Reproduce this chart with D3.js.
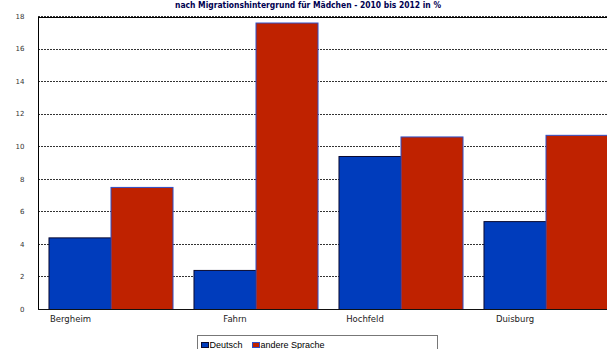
<!DOCTYPE html>
<html>
<head>
<meta charset="utf-8">
<script src="https://cdn.jsdelivr.net/npm/d3@7"></script>
<style>
html,body{margin:0;padding:0;background:#fff;}
svg{display:block;}
</style>
</head>
<body>
<svg id="chart" width="607" height="349"></svg>
<script>
// ---- data ----
const categories = ["Bergheim", "Fahrn", "Hochfeld", "Duisburg"];
const seriesNames = ["Deutsch", "andere Sprache"];
const deutsch = [4.4, 2.4, 9.4, 5.4];
const andereSprache = [7.5, 17.6, 10.6, 10.7];
const yTicks = [0, 2, 4, 6, 8, 10, 12, 14, 16, 18];
const titleText = "nach Migrationshintergrund für Mädchen - 2010 bis 2012 in %";

// ---- layout / style ----
const colors = {"Deutsch": "#003cbc", "andere Sprache": "#bf2200"};
const strokes = {"Deutsch": "#0a0a30", "andere Sprache": "#2f4fc8"};
const labelShift = [-40, -20.5, -35.5, -30.5];

const svg = d3.select("#chart");
const plotLeft = 38, plotRight = 618, plotTop = 16, plotBottom = 309;

const x = d3.scaleBand().domain(categories).range([plotLeft, plotRight]).padding(0);
const xs = d3.scaleBand().domain(seriesNames).range([0, x.bandwidth()])
  .paddingInner(0).paddingOuter(0.169);
const y = d3.scaleLinear().domain([0, 18]).range([plotBottom, plotTop]);

// title
svg.append("text")
  .attr("x", 308).attr("y", 8)
  .attr("text-anchor", "middle")
  .attr("font-family", "DejaVu Sans, Verdana, sans-serif")
  .attr("font-weight", "bold")
  .attr("font-size", 8.5)
  .attr("fill", "#000050")
  .attr("textLength", 266)
  .attr("lengthAdjust", "spacingAndGlyphs")
  .text(titleText);

// gridlines
const grid = svg.append("g");
grid.selectAll("line").data(yTicks.filter(d => d > 0)).join("line")
  .attr("x1", plotLeft).attr("x2", 607)
  .attr("y1", d => Math.round(y(d)) + 0.5).attr("y2", d => Math.round(y(d)) + 0.5)
  .attr("stroke", "#333")
  .attr("stroke-width", 1)
  .attr("stroke-dasharray", "2,1");

// frame top line
svg.append("line")
  .attr("x1", plotLeft).attr("x2", 607)
  .attr("y1", Math.round(y(18)) + 1.5).attr("y2", Math.round(y(18)) + 1.5)
  .attr("stroke", "#000").attr("stroke-width", 1);

// y-axis using d3 axis, then styled
const yAxis = d3.axisLeft(y).tickValues(yTicks).tickSize(0).tickPadding(14);
const ya = svg.append("g").attr("transform", `translate(${plotLeft + 0.5},0)`).call(yAxis);
ya.select(".domain").remove();
ya.selectAll("text")
  .attr("font-family", "DejaVu Sans, Verdana, sans-serif")
  .attr("font-size", 7)
  .attr("fill", "#333");

// bars
const data = categories.map((c, i) => ({cat: c, vals: [
  {s: "Deutsch", v: deutsch[i]},
  {s: "andere Sprache", v: andereSprache[i]}
]}));

const groups = svg.append("g").selectAll("g").data(data).join("g")
  .attr("transform", d => `translate(${x(d.cat)},0)`);
groups.selectAll("rect").data(d => d.vals).join("rect")
  .attr("x", d => xs(d.s) + 0.5)
  .attr("y", d => y(d.v) + 0.5)
  .attr("width", xs.bandwidth())
  .attr("height", d => plotBottom - y(d.v))
  .attr("fill", d => colors[d.s])
  .attr("stroke", d => strokes[d.s])
  .attr("stroke-width", 1);

// axis lines
svg.append("line")
  .attr("x1", plotLeft + 0.5).attr("x2", plotLeft + 0.5)
  .attr("y1", Math.round(y(18)) + 1).attr("y2", plotBottom + 0.5)
  .attr("stroke", "#000").attr("stroke-width", 1);
svg.append("line")
  .attr("x1", plotLeft).attr("x2", 607)
  .attr("y1", plotBottom + 0.5).attr("y2", plotBottom + 0.5)
  .attr("stroke", "#111").attr("stroke-width", 1);

// category labels
svg.append("g").selectAll("text").data(categories).join("text")
  .attr("x", (d, i) => x(d) + x.bandwidth() / 2 + labelShift[i])
  .attr("y", 322)
  .attr("text-anchor", "middle")
  .attr("font-family", "DejaVu Sans, Verdana, sans-serif")
  .attr("font-size", 8.5)
  .attr("fill", "#222")
  .text(d => d);

// legend
const lg = svg.append("g");
lg.append("rect")
  .attr("x", 197.5).attr("y", 335.5).attr("width", 240).attr("height", 20)
  .attr("fill", "#fff").attr("stroke", "#777").attr("stroke-width", 1);
const legendX = [201, 252];
seriesNames.forEach((s, i) => {
  lg.append("rect")
    .attr("x", legendX[i] + 0.5).attr("y", 342.5).attr("width", 7).attr("height", 5)
    .attr("fill", colors[s]).attr("stroke", strokes[s]).attr("stroke-width", 1);
  lg.append("text")
    .attr("x", legendX[i] + 8.5).attr("y", 348)
    .attr("font-family", "Liberation Sans, Arial, sans-serif")
    .attr("font-size", 9)
    .attr("fill", "#000")
    .text(s);
});
</script>
</body>
</html>
